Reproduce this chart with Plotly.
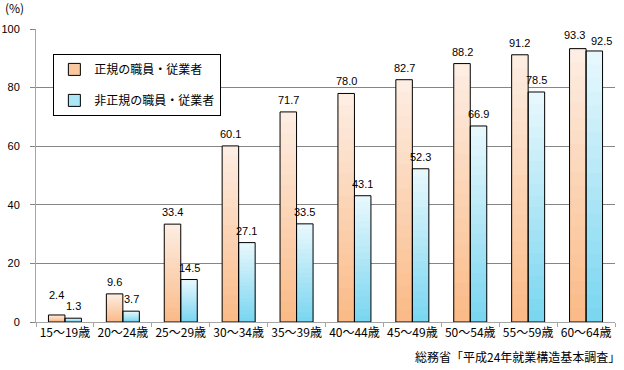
import numpy as np
import plotly.graph_objects as go

categories = ["15～19歳", "20～24歳", "25～29歳", "30～34歳", "35～39歳",
              "40～44歳", "45～49歳", "50～54歳", "55～59歳", "60～64歳"]
regular = [2.4, 9.6, 33.4, 60.1, 71.7, 78.0, 82.7, 88.2, 91.2, 93.3]
nonregular = [1.3, 3.7, 14.5, 27.1, 33.5, 43.1, 52.3, 66.9, 78.5, 92.5]
series_names = ["正規の職員・従業者", "非正規の職員・従業者"]
y_ticks = [0, 20, 40, 60, 80, 100]

NUM = "Liberation Sans, Arial, sans-serif"
JP = "Noto Sans CJK JP, sans-serif"

W = 0.285
N = 20
HALF_PX = 8.25  # half a bar width in pixels

def lerp(a, b, t):
    return tuple(int(round(a[i] + (b[i] - a[i]) * t)) for i in range(3))

styles = [
    dict(vals=regular, off=-W, dx=-HALF_PX, top=(253, 238, 228), bot=(250, 186, 134), legend=(250, 200, 160)),
    dict(vals=nonregular, off=0.0, dx=HALF_PX, top=(234, 249, 253), bot=(120, 213, 240), legend=(170, 230, 248)),
]

# label nudges (as placed in the reference to avoid collisions): (series, index) -> (dx, dy)
nudges = {(0, 0): (0, 8), (0, 9): (-3, 2), (1, 9): (7, -2)}

fig = go.Figure()

# legend entries
for i, st in enumerate(styles):
    fig.add_trace(go.Bar(
        x=[categories[0]], y=[None], name=series_names[i],
        legendgroup="g%d" % i, width=W, offset=st["off"],
        marker=dict(color="rgb(%d,%d,%d)" % st["legend"], line=dict(color="black", width=1)),
        showlegend=True, hoverinfo="skip"))

# gradient layers
for st in styles:
    v = np.array(st["vals"], dtype=float)
    for k in range(N):
        f = 1 - k / N
        c = lerp(st["top"], st["bot"], (k + 0.5) / N)
        fig.add_trace(go.Bar(
            x=categories, y=v * f, width=W, offset=st["off"],
            marker=dict(color="rgb(%d,%d,%d)" % c, line=dict(width=0)),
            showlegend=False, hoverinfo="skip"))

# outlines
for i, st in enumerate(styles):
    fig.add_trace(go.Bar(
        x=categories, y=st["vals"], width=W, offset=st["off"],
        marker=dict(color="rgba(0,0,0,0)", line=dict(color="black", width=1)),
        showlegend=False, name=series_names[i]))

# value labels
annotations = []
for i, st in enumerate(styles):
    for j, (cat, v) in enumerate(zip(categories, st["vals"])):
        ndx, ndy = nudges.get((i, j), (0, 0))
        annotations.append(dict(
            text="%.1f" % v, x=cat, y=v, xref="x", yref="y",
            xanchor="center", yanchor="bottom",
            xshift=st["dx"] + ndx, yshift=4 + ndy, showarrow=False,
            font=dict(family=NUM, size=11, color="#000")))

annotations += [
    dict(text="(%)", xref="paper", yref="paper", x=-0.057, y=1.072,
         xanchor="left", yanchor="middle", showarrow=False,
         font=dict(family=JP, size=12, color="#000")),
    dict(text="総務省「平成24年就業構造基本調査」", xref="paper", yref="paper",
         x=1.012, y=-0.119, xanchor="right", yanchor="middle", showarrow=False,
         font=dict(family=JP, size=12, color="#000")),
]

fig.update_layout(
    width=624, height=370,
    margin=dict(l=36, r=9, t=29, b=48, autoexpand=False),
    paper_bgcolor="white", plot_bgcolor="white",
    barmode="overlay",
    font=dict(family=JP, size=12, color="#000"),
    legend=dict(
        x=0.03, y=0.915, xanchor="left", yanchor="top",
        bgcolor="white", bordercolor="black", borderwidth=1,
        font=dict(family=JP, size=12, color="#000"),
        traceorder="grouped", tracegroupgap=12,
    ),
    xaxis=dict(
        type="category", range=[-0.5, 9.5], tickangle=0, automargin=False,
        showline=True, linecolor="#a6a6a6", linewidth=1,
        ticks="outside", tickson="boundaries", ticklen=4, tickcolor="#a6a6a6",
        showgrid=False,
        tickfont=dict(family=JP, size=12, color="#000"),
    ),
    yaxis=dict(
        range=[0, 100], tickvals=y_ticks, automargin=False,
        showgrid=True, gridcolor="#868686", gridwidth=1,
        showline=True, linecolor="#a6a6a6", linewidth=1,
        ticks="outside", ticklen=5, tickcolor="#868686",
        ticklabelstandoff=8,
        tickfont=dict(family=NUM, size=11, color="#000"),
        zeroline=False,
    ),
    annotations=annotations,
)

fig.write_html("out.html", config={"displayModeBar": False},
               post_script="document.body.style.margin='0';document.body.style.overflow='hidden';")
